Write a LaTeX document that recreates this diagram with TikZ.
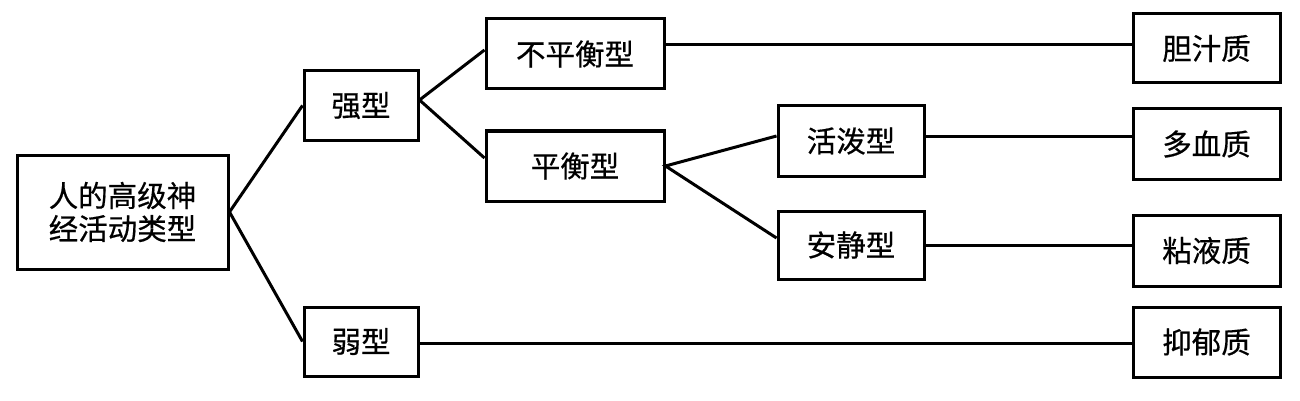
\documentclass[tikz,border=0pt]{standalone}
\usepackage{fontspec}
\newfontfamily\cjk[FakeBold=0.5]{Noto Sans CJK SC}
\usetikzlibrary{calc}
\begin{document}
\begin{tikzpicture}[x=1pt,y=-1pt,
  box/.style={draw=black,line width=3pt,fill=white,inner sep=0pt,align=center,
    font=\cjk\fontsize{29.5}{33}\selectfont,minimum height=69},
  link/.style={draw=black,line width=3pt}]
\useasboundingbox[fill=white] (0,0) rectangle (1300,401);
\node[box,minimum width=211,minimum height=114] (root) at (122.5,212) {人的高级神\\经活动类型};
\node[box,minimum width=114] (strong) at (361,105.5) {强型};
\node[box,minimum width=114] (weak) at (361,341.5) {弱型};
\node[box,minimum width=178,minimum height=70] (unbal) at (575,54) {不平衡型};
\node[box,minimum width=178,minimum height=70] (bal) at (575,166) {平衡型};
\node[box,minimum width=146,minimum height=70] (lively) at (851,141) {活泼型};
\node[box,minimum width=146,minimum height=68] (calm) at (851,245) {安静型};
\node[box,minimum width=147] (choleric) at (1206.5,48.5) {胆汁质};
\node[box,minimum width=147,minimum height=70] (sanguine) at (1206.5,144) {多血质};
\node[box,minimum width=147,minimum height=71] (phlegm) at (1206.5,250.5) {粘液质};
\node[box,minimum width=147,minimum height=70] (melan) at (1206.5,342) {抑郁质};
\draw[link] (strong.west) -- (root.east) -- (weak.west);
\draw[link] ($(unbal.west)+(0,-4)$) -- ($(strong.east)+(0,-5.5)$) -- ($(bal.west)+(0,-8)$);
\draw[link] ($(lively.west)+(0,-5)$) -- (bal.east) -- ($(calm.west)+(0,-7)$);
\draw[link] ($(unbal.east)+(0,-9)$) -- ($(choleric.west)+(0,-3.5)$);
\draw[link] ($(lively.east)+(0,-5)$) -- ($(sanguine.west)+(0,-8)$);
\draw[link] (calm.east) -- ($(phlegm.west)+(0,-5.5)$);
\draw[link] ($(weak.east)+(0,1.5)$) -- ($(melan.west)+(0,1)$);
\end{tikzpicture}
\end{document}
